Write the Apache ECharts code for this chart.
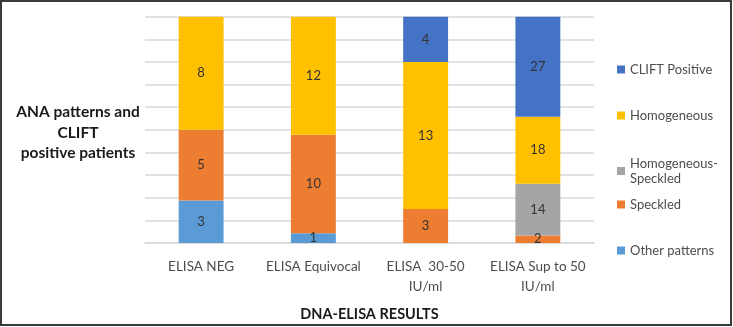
<!DOCTYPE html>
<html>
<head>
<meta charset="utf-8">
<script src="https://cdn.jsdelivr.net/npm/echarts@6/dist/echarts.min.js"></script>
<style>
	html, body { margin: 0; padding: 0; background: #fff; }
	#chart { width: 733px; height: 327px; }
</style>
</head>
<body>
<div id="chart"></div>
<script>
var categories = ["ELISA NEG", "ELISA Equivocal", "ELISA  30-50\nIU/ml", "ELISA Sup to 50\nIU/ml"];
var otherPatterns = [3, 1, 0, 0];
var speckled = [5, 10, 3, 2];
var homSpeckled = [0, 0, 0, 14];
var homogeneous = [8, 12, 13, 18];
var cliftPositive = [0, 0, 4, 27];

var seriesNames = ["Other patterns", "Speckled", "Homogeneous-Speckled", "Homogeneous", "CLIFT Positive"];
var seriesValues = [otherPatterns, speckled, homSpeckled, homogeneous, cliftPositive];
var color = ["#5B9BD5", "#ED7D31", "#A5A5A5", "#FFC000", "#4472C4"];
var font = "Lato, 'Liberation Sans', sans-serif";

// totals per category, bars are drawn as share of 100%
var totals = categories.map(function (c, i) {
	return seriesValues.reduce(function (p, s) { return p + s[i]; }, 0);
});

var series = seriesValues.map(function (vals, k) {
	return {
		name: seriesNames[k],
		type: "bar",
		stack: "all",
		barWidth: "40%",
		itemStyle: { color: color[k] },
		label: {
			show: true,
			position: "inside",
			color: "#333",
			fontSize: 13,
			fontFamily: font,
			formatter: function (p) { return vals[p.dataIndex]; }
		},
		data: vals.map(function (v, i) {
			return v ? v / totals[i] * 100 : null;
		})
	};
});

// legend items placed one by one (top to bottom is the reverse of stack order)
var legendTops = [62, 108, 156, 197, 243];
var legendOrder = ["CLIFT Positive", "Homogeneous", "Homogeneous-Speckled", "Speckled", "Other patterns"];
var legends = legendOrder.map(function (name, i) {
	return {
		data: [name],
		left: 617,
		top: legendTops[i],
		padding: 0,
		orient: "vertical",
		icon: "rect",
		itemWidth: 8,
		itemHeight: 8,
		itemGap: 6,
		formatter: function (n) { return n === "Homogeneous-Speckled" ? "Homogeneous-\nSpeckled" : n; },
		textStyle: { color: "#4d4d4d", fontSize: 13, fontFamily: font, lineHeight: 15 }
	};
});

var myChart = echarts.init(document.getElementById("chart"), null, { renderer: "canvas" });
var option = {
	animation: false,
	grid: { left: 145, right: 139, top: 16.7, bottom: 82 },
	legend: legends,
	xAxis: {
		type: "category",
		data: categories,
		name: "DNA-ELISA RESULTS",
		nameLocation: "middle",
		nameGap: 64,
		nameTextStyle: { color: "#1a1a1a", fontWeight: "bold", fontSize: 14.5, fontFamily: font },
		axisLine: { lineStyle: { color: "#d9d9d9", width: 1.5 } },
		axisTick: { show: false },
		axisLabel: { interval: 0, color: "#4d4d4d", fontSize: 13.5, fontFamily: font, lineHeight: 20, margin: 14 }
	},
	yAxis: {
		type: "value",
		min: 0,
		max: 100,
		interval: 10,
		axisLabel: { show: false },
		axisLine: { show: false },
		axisTick: { show: false },
		splitLine: { lineStyle: { color: "#d9d9d9", width: 1.5 } }
	},
	graphic: [
		{
			type: "text",
			x: 78,
			y: 102,
			style: {
				text: "ANA patterns and\nCLIFT\npositive patients",
				align: "center",
				fill: "#1a1a1a",
				font: "bold 15.5px " + font,
				lineHeight: 20.5
			}
		},
		{
			type: "rect",
			shape: { x: 1, y: 1, width: 730, height: 324 },
			style: { fill: null, stroke: "#3a3a3a", lineWidth: 2 },
			silent: true
		}
	],
	series: series
};
myChart.setOption(option);
window.addEventListener("resize", myChart.resize);
</script>
</body>
</html>
